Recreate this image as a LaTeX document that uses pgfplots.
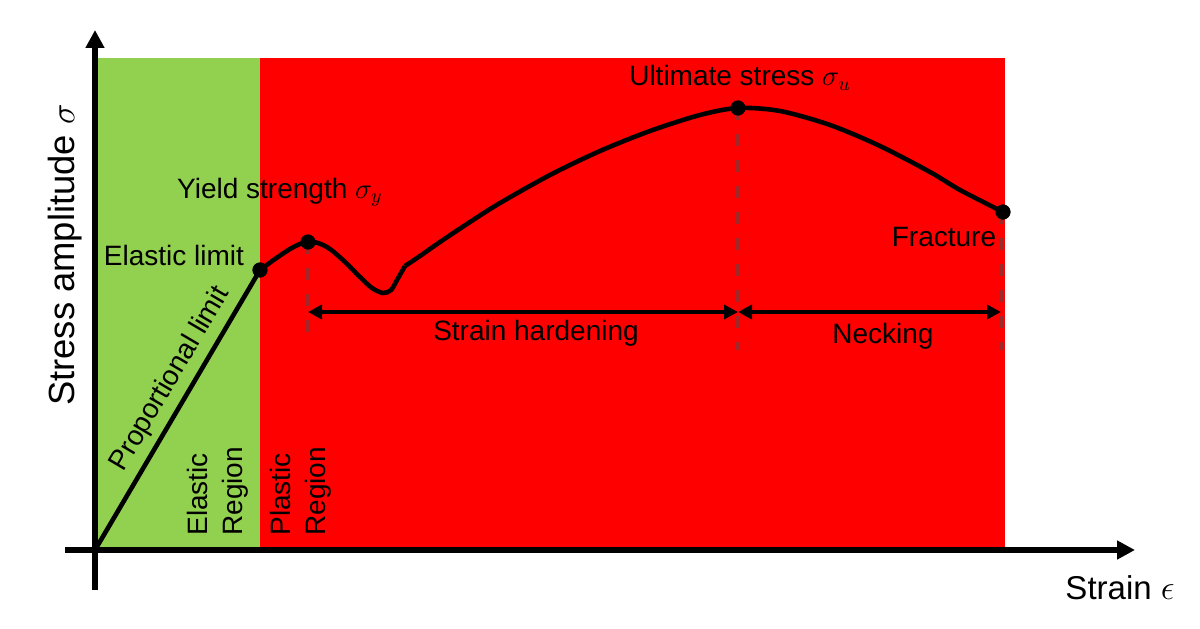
\documentclass[border=0pt]{standalone}
\usepackage{pgfplots}
\pgfplotsset{compat=1.18}
\usepackage{fontspec}
\setmainfont{Liberation Sans}
\usetikzlibrary{arrows.meta}
\definecolor{mygreen}{HTML}{92D050}
\definecolor{myred}{HTML}{FF0000}
\definecolor{dashc}{HTML}{A02828}
\tikzset{lbl/.style={font=\fontsize{14}{17.5}\selectfont}}
\begin{document}
\begin{tikzpicture}
\begin{axis}[
  scale only axis, width=600pt, height=314pt,
  xmin=-95, xmax=1105, ymin=-78, ymax=550,
  hide axis, clip=false,
]
\path (axis cs:-95,-78) rectangle (axis cs:1105,550);
% regions
\addplot[fill=mygreen, draw=none] coordinates {(0,0)(165,0)(165,492)(0,492)} -- cycle;
\addplot[fill=myred, draw=none] coordinates {(165,0)(910,0)(910,492)(165,492)} -- cycle;
% axes
\draw[line width=2.8pt, -{Triangle[length=9pt,width=9pt]}] (axis cs:0,-40) -- (axis cs:0,520);
\draw[line width=2.8pt, -{Triangle[length=9pt,width=9pt]}] (axis cs:-30,0) -- (axis cs:1040,0);
% dashed guides
\addplot[dashc, line width=1.6pt, dash pattern=on 6pt off 7pt] coordinates {(213,308)(213,205)};
\addplot[dashc, line width=1.6pt, dash pattern=on 6pt off 7pt] coordinates {(643,442)(643,200)};
\addplot[dashc, line width=1.6pt, dash pattern=on 6pt off 7pt] coordinates {(906,338)(906,200)};
% curve
\addplot[black, line width=2.3pt] coordinates {(0,0)(165,280)};
\addplot[black, line width=2.3pt, smooth, tension=0.5] coordinates {
(165,280)(180,291)(195,301)(205,306)(213,308)(223,307)(235,301)(250,288)(265,273)(277,262)(288,257)(296,260)(302,270)(310,284)};
\addplot[black, line width=2.3pt, smooth, tension=0.5] coordinates {
(310,284)(325,294)(345,308)(375,328)(405,347)(455,375)(505,399)(555,419)(605,435)(643,442)(685,439)(735,425)(785,404)(835,378)(865,360)(908,338)};
% points
\addplot[only marks, mark=*, mark size=3.6pt, black] coordinates {(165,280)(213,308)(643,442)(908,338)};
% arrows
\draw[line width=1.8pt, {Triangle[length=7pt,width=7pt]}-{Triangle[length=7pt,width=7pt]}] (axis cs:213,238) -- (axis cs:643,238);
\draw[line width=1.8pt, {Triangle[length=7pt,width=7pt]}-{Triangle[length=7pt,width=7pt]}] (axis cs:643,238) -- (axis cs:906,238);
% labels
\node[lbl] at (axis cs:645,472) {Ultimate stress $\sigma_u$};
\node[lbl] at (axis cs:185,358) {Yield strength $\sigma_y$};
\node[lbl] at (axis cs:79,295) {Elastic limit};
\node[lbl] at (axis cs:849,313) {Fracture};
\node[lbl] at (axis cs:441,217) {Strain hardening};
\node[lbl] at (axis cs:788,214) {Necking};
\node[lbl, rotate=59.5, anchor=south, inner sep=4pt] at (axis cs:94,160) {Proportional limit};
\node[lbl, rotate=90, anchor=west, align=left, inner sep=0pt] at (axis cs:123,14) {Elastic\\Region};
\node[lbl, rotate=90, anchor=west, align=left, inner sep=0pt] at (axis cs:206,14) {Plastic\\Region};
\node[rotate=90, font=\fontsize{18.2}{22}\selectfont] at (axis cs:-30,295) {Stress amplitude $\sigma$};
\node[font=\fontsize{16.5}{20}\selectfont] at (axis cs:1025,-38) {Strain $\epsilon$};
\end{axis}
\end{tikzpicture}
\end{document}
